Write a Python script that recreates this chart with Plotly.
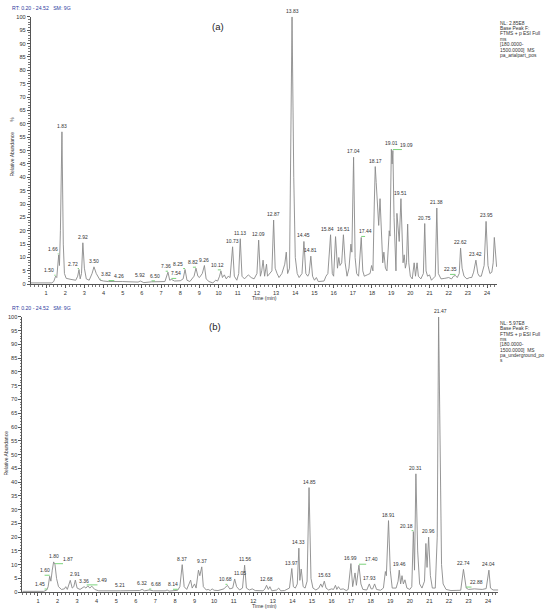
"""Base peak chromatograms (aerial part vs underground part), Xcalibur style."""

import plotly.graph_objects as go

W, H = 550, 615

# ---- panel (a): aerial part ----
a_time = [0.20, 1.30, 1.40, 1.50, 1.56, 1.62, 1.66, 1.70, 1.75, 1.83, 1.90, 1.96,
          2.05, 2.30, 2.55, 2.65, 2.72, 2.78, 2.85, 2.92, 3.00, 3.10, 3.25, 3.40,
          3.50, 3.62, 3.75, 3.82, 4.00, 4.26, 5.00, 5.80, 5.92, 6.10, 6.50, 7.20,
          7.36, 7.45, 7.54, 7.70, 8.00, 8.15, 8.25, 8.35, 8.50, 8.60, 8.72, 8.82,
          8.92, 9.00, 9.15, 9.26, 9.35, 9.50, 9.70, 9.85, 9.95, 10.05, 10.12, 10.20,
          10.30, 10.40, 10.50, 10.60, 10.73, 10.82, 10.95, 11.05, 11.13, 11.22, 11.35,
          11.55, 11.70, 11.85, 12.00, 12.09, 12.18, 12.25, 12.32, 12.40, 12.50, 12.55,
          12.65, 12.78, 12.87, 12.95, 13.05, 13.15, 13.30, 13.45, 13.53, 13.60, 13.70,
          13.83, 13.92, 14.00, 14.10, 14.20, 14.35, 14.45, 14.55, 14.65, 14.72, 14.81,
          14.90, 15.00, 15.10, 15.20, 15.50, 15.60, 15.70, 15.75, 15.84, 15.93, 16.00,
          16.10, 16.20, 16.27, 16.33, 16.42, 16.51, 16.60, 16.70, 16.80, 16.90, 16.95,
          17.04, 17.12, 17.20, 17.30, 17.44, 17.52, 17.60, 17.75, 17.90, 17.98, 18.05,
          18.12, 18.17, 18.22, 18.28, 18.35, 18.42, 18.50, 18.56, 18.62, 18.70, 18.78,
          18.85, 18.90, 18.94, 19.01, 19.05, 19.09, 19.15, 19.22, 19.25, 19.30, 19.38,
          19.42, 19.51, 19.58, 19.62, 19.68, 19.74, 19.80, 19.86, 19.92, 20.00, 20.10,
          20.20, 20.27, 20.35, 20.42, 20.55, 20.68, 20.75, 20.82, 20.90, 21.00, 21.10,
          21.30, 21.38, 21.46, 21.60, 21.80, 22.00, 22.15, 22.25, 22.35, 22.45, 22.55,
          22.62, 22.70, 22.80, 22.95, 23.10, 23.20, 23.30, 23.42, 23.52, 23.60, 23.70,
          23.85, 23.95, 24.05, 24.15, 24.25, 24.32, 24.38, 24.45, 24.50]
a_abund = [0.5, 0.5, 1.0, 3.0, 2.5, 8, 11, 7, 20, 57, 15, 4,
           2.2, 1.8, 1.5, 3, 5.5, 2, 4, 15.5, 6, 2, 1.5, 4,
           6.5, 4, 2, 1.5, 1.2, 1.0, 1.0, 0.8, 1.2, 0.6, 0.9, 1.0,
           4.5, 1.5, 1.8, 1.2, 1.3, 2, 5.5, 1.5, 1.0, 2.0, 3, 6,
           3, 2.5, 4, 7, 2, 1.0, 0.5, 1.5, 1.2, 3, 5, 2.5,
           3.5, 2, 3, 2.5, 14, 3, 1.5, 4, 17, 3, 2,
           3.5, 2.5, 2, 4, 16.5, 3, 5, 9, 3, 7.5, 3,
           4, 5, 24, 6, 4, 2.5, 4, 7.5, 12, 4, 6,
           100, 40, 10, 4, 2.5, 4, 16, 4, 3, 4, 10.5,
           3, 1.5, 2.5, 1.0, 1.2, 3, 4, 9, 18.5, 4, 3,
           17.8, 6, 10, 7, 8, 18.5, 8, 3, 6, 15, 12,
           47.5, 10, 4, 3, 17.5, 5, 3, 3.5, 4, 7, 5,
           30, 44, 38, 30, 22, 32, 15, 8, 12, 6, 5,
           18, 20, 18, 50.5, 45, 50, 25, 10, 5, 26.5, 18,
           16, 32, 15, 8, 11, 6, 8, 22.5, 8, 3, 2,
           8, 3, 8, 3, 2, 4, 22.7, 5, 3, 3.5, 1.5,
           3, 28.5, 4, 2, 2.2, 2.5, 2, 3, 3.3, 2.5, 4,
           13.5, 6, 3, 2, 2.5, 2.5, 4.5, 9, 4, 3, 3,
           7, 23.5, 7, 4, 4.5, 8, 17.5, 10, 6.5]
a_peak_t = [1.50, 1.66, 1.83, 2.72, 2.92, 3.50, 3.82, 4.26, 5.92, 6.50, 7.36, 7.54,
            8.25, 8.82, 9.26, 10.12, 10.73, 11.13, 12.09, 12.87, 13.83, 14.45, 14.81,
            15.84, 16.51, 17.04, 17.44, 18.17, 19.01, 19.09, 19.51, 20.75, 21.38,
            22.35, 22.62, 23.42, 23.95]
a_peak_y = [3.0, 11, 57, 5.5, 15.5, 6.5, 1.5, 1.0, 1.2, 0.9, 4.5, 1.8,
            5.5, 6, 7, 5, 14, 17, 16.5, 24, 100, 16, 10.5,
            18.5, 18.5, 47.5, 17.5, 44, 50.5, 50, 32, 22.7, 28.5,
            3.3, 13.5, 9, 23.5]
a_info = ["NL: 2.85E8", "Base Peak F:", "FTMS + p ESI Full", "ms",
          "[180.0000-", "1500.0000]  MS", "pa_arialpart_pos"]

# ---- panel (b): underground part ----
b_time = [0.20, 1.30, 1.45, 1.52, 1.60, 1.66, 1.73, 1.80, 1.87, 1.95, 2.05, 2.20,
          2.35, 2.42, 2.50, 2.65, 2.75, 2.83, 2.91, 3.00, 3.15, 3.30, 3.36, 3.45,
          3.55, 3.65, 3.75, 3.90, 4.10, 5.21, 6.00, 6.20, 6.32, 6.45, 6.68, 6.90,
          7.50, 7.60, 7.70, 8.14, 8.25, 8.37, 8.47, 8.60, 8.72, 8.80, 8.88, 9.00,
          9.08, 9.20, 9.27, 9.37, 9.45, 9.60, 9.70, 9.80, 9.90, 10.00, 10.20, 10.50,
          10.68, 10.80, 10.95, 11.05, 11.15, 11.30, 11.45, 11.56, 11.65, 11.80, 11.95,
          12.10, 12.50, 12.60, 12.68, 12.77, 12.85, 12.95, 13.20, 13.30, 13.40, 13.60,
          13.85, 13.97, 14.05, 14.15, 14.25, 14.33, 14.38, 14.45, 14.55, 14.65, 14.75,
          14.85, 14.95, 15.05, 15.20, 15.35, 15.45, 15.53, 15.63, 15.72, 15.85, 16.00,
          16.10, 16.20, 16.27, 16.35, 16.45, 16.60, 16.75, 16.85, 16.99, 17.08, 17.20,
          17.27, 17.40, 17.50, 17.60, 17.80, 17.93, 18.02, 18.10, 18.20, 18.30, 18.50,
          18.65, 18.75, 18.80, 18.91, 19.00, 19.10, 19.30, 19.40, 19.46, 19.53, 19.60,
          19.67, 19.75, 19.85, 20.00, 20.10, 20.18, 20.24, 20.31, 20.40, 20.50, 20.62,
          20.75, 20.82, 20.88, 20.96, 21.05, 21.15, 21.30, 21.40, 21.47, 21.55, 21.62,
          21.70, 21.85, 22.10, 22.60, 22.74, 22.84, 22.88, 23.00, 23.30, 23.70, 23.90,
          24.04, 24.12, 24.25, 24.52]
b_abund = [0.3, 0.3, 0.8, 2, 5.8, 4, 8, 11, 10, 5, 2, 1,
           1.2, 2, 1, 4.3, 1.5, 2, 4.4, 1.5, 1, 1.8, 2, 1.5,
           2.3, 1.5, 2.2, 1, 0.5, 0.5, 0.4, 0.6, 1, 0.5, 0.8, 0.5,
           0.5, 0.8, 0.4, 0.7, 2, 10, 2, 1, 3, 4.4, 1.5, 3,
           1.5, 8, 6, 9.2, 2, 0.8, 1, 0.6, 1.2, 0.7, 0.6, 1.2,
           2.5, 1.2, 1.5, 4.8, 2, 0.8, 1.5, 9.8, 1.5, 0.8, 1.2,
           0.6, 0.5, 1.2, 2.5, 1, 2, 0.5, 0.8, 1.5, 0.5, 0.6,
           1.5, 8.6, 2, 1.5, 3, 16, 4.3, 8.4, 2, 1.5, 4,
           38, 5, 1.5, 0.8, 1.5, 3, 1.8, 4, 1.5, 0.8, 1.2,
           1, 2.5, 1, 2, 1, 1.2, 0.6, 1, 10.4, 2, 7,
           2.5, 9.8, 3, 1, 0.8, 3, 1.2, 1.2, 3, 1, 0.7,
           1.5, 7.5, 6, 26, 8, 1.5, 1.5, 4, 8, 3, 6,
           3, 4.5, 1.5, 1, 2, 22, 8, 43, 15, 3, 1.5,
           4, 17.7, 9, 20, 6, 1.5, 1.5, 20, 100, 40, 10,
           3, 1, 0.6, 0.7, 8.3, 2, 1.5, 1, 1.2, 1, 1.3,
           8, 1.5, 0.8, 0.8]
b_peak_t = [1.45, 1.60, 1.80, 1.87, 2.91, 3.36, 3.49, 5.21, 6.32, 6.68, 8.14, 8.37,
            9.37, 10.68, 11.05, 11.56, 12.68, 13.97, 14.33, 14.85, 15.63, 16.99,
            17.40, 17.93, 18.91, 19.46, 20.18, 20.31, 20.96, 21.47, 22.74, 22.88, 24.04]
b_peak_y = [0.8, 5.8, 11, 10, 4.4, 2, 2.3, 0.5, 1, 0.8, 0.7, 10,
            9.2, 2.5, 4.8, 9.8, 2.5, 8.6, 16, 38, 4, 10.4,
            9.8, 3, 26, 8, 22, 43, 20, 100, 8.3, 1.5, 8]
b_info = ["NL: 5.97E8", "Base Peak F:", "FTMS + p ESI Full", "ms",
          "[180.0000-", "1500.0000]  MS", "pa_underground_po", "s"]

# labels pushed sideways (minutes) and tied back to their peak with a green line
a_leader = {1.50: -0.32, 1.66: -0.30, 2.72: -0.32, 3.82: 0.30, 4.26: 0.55,
            6.50: 0.18, 7.36: -0.12, 7.54: 0.25, 8.25: -0.35, 8.82: -0.16,
            10.12: -0.16, 17.44: 0.20, 19.09: 0.72, 22.35: -0.28}
b_leader = {1.45: -0.36, 1.60: -0.26, 1.87: 0.66, 3.49: 0.80, 6.68: 0.36,
            8.14: -0.24, 10.68: -0.10, 17.40: 0.62, 20.18: -0.34, 22.88: 0.52}
# plain sideways nudges, no leader line
a_nudge = {15.84: -0.18}
b_nudge = {11.05: 0.26, 21.47: 0.12}

FONT = "Liberation Sans, Arial, sans-serif"
LINE = "#8a8a8a"
TXT = "#333333"


def px2paper(px, py):
    return px / W, 1 - py / H


def paper_text(px, py, text, size, color=TXT, angle=0, xanchor="center"):
    x, y = px2paper(px, py)
    return dict(x=x, y=y, xref="paper", yref="paper", text=text,
                xanchor=xanchor, yanchor="middle", textangle=angle,
                showarrow=False, font=dict(family=FONT, size=size, color=color))


fig = go.Figure()
annotations = []
shapes = []

panels = [
    # name, time, abund, peaks, leaders, nudges, info, xdomain px, ydomain px (bottom, top)
    ("a", a_time, a_abund, a_peak_t, a_peak_y, a_leader, a_nudge, a_info,
     (30.7, 497.0), (284.0, 14.0)),
    ("b", b_time, b_abund, b_peak_t, b_peak_y, b_leader, b_nudge, b_info,
     (22.3, 498.3), (595.0, 317.0)),
]

for i, (name, t, ab, pt, py_, leader, nudge, info, xd, yd) in enumerate(panels):
    xa = "x" if i == 0 else "x2"
    ya = "y" if i == 0 else "y2"
    fig.add_trace(go.Scatter(
        x=t, y=ab, mode="lines", xaxis=xa, yaxis=ya,
        line=dict(color=LINE, width=0.9), hoverinfo="skip", showlegend=False,
    ))

    ax = dict(
        domain=[xd[0] / W, xd[1] / W], range=[0.2, 24.52], anchor=ya,
        tick0=0, dtick=1, ticks="outside", ticklen=3, tickwidth=0.8,
        tickcolor="#555", showline=True, linecolor="#555", linewidth=0.8,
        showgrid=False, zeroline=False,
        tickfont=dict(family=FONT, size=5.6, color=TXT),
        minor=dict(dtick=0.2, tick0=0, ticks="outside", ticklen=1.5,
                   tickwidth=0.6, tickcolor="#777"),
    )
    ay = dict(
        domain=[1 - yd[0] / H, 1 - yd[1] / H], range=[0, 100], anchor=xa,
        tick0=0, dtick=5, ticks="outside", ticklen=3, tickwidth=0.8,
        tickcolor="#555", showline=True, linecolor="#555", linewidth=0.8,
        showgrid=False, zeroline=False,
        tickfont=dict(family=FONT, size=5.6, color=TXT),
        minor=dict(dtick=1, tick0=0, ticks="outside", ticklen=1.5,
                   tickwidth=0.6, tickcolor="#777"),
    )
    fig.update_layout({("xaxis" if i == 0 else "xaxis2"): ax,
                       ("yaxis" if i == 0 else "yaxis2"): ay})

    yscale = (yd[0] - yd[1]) / 100.0  # px per % abundance
    for tt, yy in zip(pt, py_):
        dt = leader.get(tt, nudge.get(tt, 0.0))
        annotations.append(dict(
            x=tt + dt, y=yy, xref=xa, yref=ya, text=f"{tt:.2f}",
            showarrow=False, xanchor="center", yanchor="bottom", yshift=1,
            font=dict(family=FONT, size=5.0, color=TXT),
        ))
        if tt in leader:
            half = 0.25
            x_end = tt + dt - half if dt > 0 else tt + dt + half
            if abs(dt) < half + 0.05:
                x_end = tt + dt
            shapes.append(dict(
                type="line", xref=xa, yref=ya, x0=tt, x1=x_end,
                y0=yy + 1.0 / yscale, y1=yy + 1.0 / yscale,
                line=dict(color="#5ac85a", width=0.8),
            ))

    top = yd[1]
    annotations.append(paper_text(10, top - 9, "RT: 0.20 - 24.52   SM: 9G", 5.2,
                                  color="#2f3a9e", xanchor="left"))
    annotations.append(paper_text(218 if i == 0 else 215, top + 10, f"({name})",
                                  9.5, color="#222"))
    for k, line in enumerate(info):
        annotations.append(paper_text(498, top + 6.5 + k * 5.4, line, 4.9,
                                      xanchor="left"))
    annotations.append(paper_text(264, yd[0] + 14, "Time (min)", 5.2))
    if i == 0:
        annotations.append(paper_text(12, 153, "Relative Abundance", 5.0, angle=-90))
        annotations.append(paper_text(12, 118, "%", 5.0, angle=-90))
    else:
        annotations.append(paper_text(6, 455, "Relative Abundance", 5.0, angle=-90))

fig.update_layout(
    width=W, height=H, margin=dict(l=0, r=0, t=0, b=0),
    paper_bgcolor="white", plot_bgcolor="white",
    annotations=annotations, shapes=shapes, showlegend=False,
)

# the page's default body margin would push the fixed-size figure off by 8px
fig.write_html("out.html", config={"displayModeBar": False},
               post_script="document.body.style.margin='0px';")
